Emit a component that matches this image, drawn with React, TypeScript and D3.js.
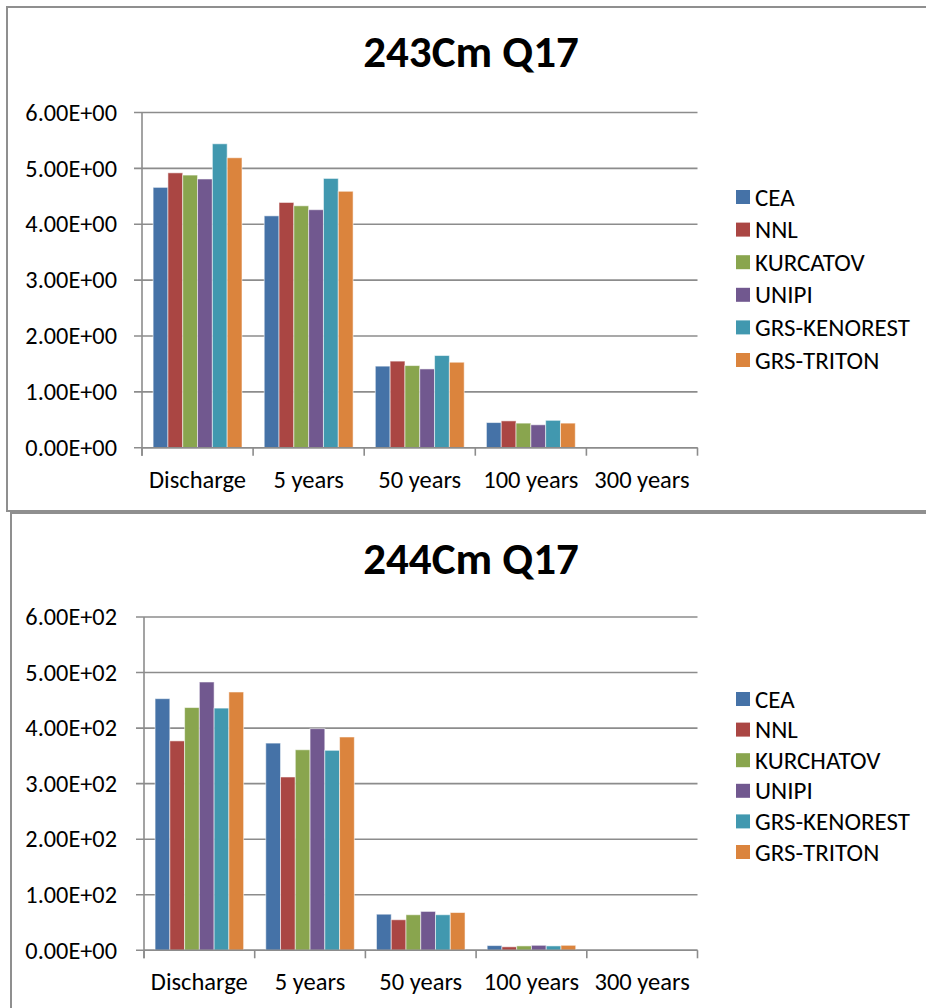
import React from "react";
import * as d3 from "d3";

const categories = ["Discharge", "5 years", "50 years", "100 years", "300 years"];

const seriesTop = ["CEA", "NNL", "KURCATOV", "UNIPI", "GRS-KENOREST", "GRS-TRITON"];
const seriesBottom = ["CEA", "NNL", "KURCHATOV", "UNIPI", "GRS-KENOREST", "GRS-TRITON"];

// 243Cm Q17 values (per series, per category)
const top_CEA = [4.66, 4.15, 1.46, 0.45, 0];
const top_NNL = [4.92, 4.39, 1.55, 0.48, 0];
const top_KURCATOV = [4.88, 4.33, 1.47, 0.44, 0];
const top_UNIPI = [4.81, 4.26, 1.41, 0.41, 0];
const top_GRSKENOREST = [5.44, 4.82, 1.65, 0.49, 0];
const top_GRSTRITON = [5.19, 4.59, 1.53, 0.44, 0];

// 244Cm Q17 values
const bot_CEA = [453, 373, 65, 8.5, 0];
const bot_NNL = [377, 312, 55, 6.3, 0];
const bot_KURCHATOV = [437, 361, 64, 7.9, 0];
const bot_UNIPI = [483, 399, 70, 9.0, 0];
const bot_GRSKENOREST = [436, 360, 64, 7.9, 0];
const bot_GRSTRITON = [465, 384, 68, 9.0, 0];

const yTicksTop = [0, 1, 2, 3, 4, 5, 6];
const yTickLabelsTop = ["0.00E+00", "1.00E+00", "2.00E+00", "3.00E+00", "4.00E+00", "5.00E+00", "6.00E+00"];
const yTicksBottom = [0, 100, 200, 300, 400, 500, 600];
const yTickLabelsBottom = ["0.00E+00", "1.00E+02", "2.00E+02", "3.00E+02", "4.00E+02", "5.00E+02", "6.00E+02"];

const colors = ["#4572A7", "#AA4643", "#89A54E", "#71588F", "#4198AF", "#DB843D"];

const FONT = "Carlito, 'Liberation Sans', Arial, sans-serif";

type ChartProps = {
  title: string;
  series: string[];
  values: number[][];
  ticks: number[];
  tickLabels: string[];
  frame: { x: number; y: number; w: number; h: number };
  plot: { left: number; right: number; top: number; bottom: number };
  titleY: number;
  legend: { x: number; y0: number; dy: number };
};

function Chart(p: ChartProps) {
  const x = d3.scaleBand<string>().domain(categories).range([p.plot.left, p.plot.right]).padding(0);
  const xi = d3
    .scaleBand<string>()
    .domain(p.series)
    .range([0, x.bandwidth()])
    .paddingInner(0)
    .paddingOuter(0.75);
  const y = d3
    .scaleLinear()
    .domain([p.ticks[0], p.ticks[p.ticks.length - 1]])
    .range([p.plot.bottom, p.plot.top]);
  const grid = "#8c8c8c";
  const boundaries = categories.map((c) => x(c)!).concat([p.plot.right]);
  return (
    <g>
      <rect x={p.frame.x} y={p.frame.y} width={p.frame.w} height={p.frame.h} fill="#fff" stroke="#8f8f8f" strokeWidth={2} />
      <text
        x={471}
        y={p.titleY}
        textAnchor="middle"
        fontFamily={FONT}
        fontWeight="bold"
        fontSize={45}
        fill="#000"
      >
        {p.title}
      </text>
      {p.ticks.map((t, i) => (
        <g key={"g" + i}>
          <line x1={p.plot.left - 8} x2={p.plot.right} y1={y(t)} y2={y(t)} stroke={grid} strokeWidth={1.6} />
          <text
            x={117}
            y={y(t)}
            dy="0.34em"
            textAnchor="end"
            fontFamily={FONT}
            fontSize={24.3}
            fill="#000"
          >
            {p.tickLabels[i]}
          </text>
        </g>
      ))}
      {p.series.map((s, si) => (
        <g key={s}>
          {categories.map((c, ci) => {
            const v = p.values[si][ci];
            const bx = x(c)! + xi(s)!;
            const by = y(v);
            return (
              <rect
                key={c}
                x={bx}
                y={by}
                width={xi.bandwidth()}
                height={Math.max(0, y(0) - by)}
                fill={colors[si]}
                stroke="#ffffff"
                strokeOpacity={0.55}
                strokeWidth={1}
              />
            );
          })}
        </g>
      ))}
      <line x1={p.plot.left} x2={p.plot.left} y1={p.plot.top} y2={p.plot.bottom + 8} stroke={grid} strokeWidth={1.6} />
      <line x1={p.plot.left} x2={p.plot.right} y1={p.plot.bottom} y2={p.plot.bottom} stroke={grid} strokeWidth={1.6} />
      {boundaries.map((b, i) => (
        <line key={"tk" + i} x1={b} x2={b} y1={p.plot.bottom} y2={p.plot.bottom + 8} stroke={grid} strokeWidth={1.6} />
      ))}
      {categories.map((c) => (
        <text
          key={"cl" + c}
          x={x(c)! + x.bandwidth() / 2}
          y={p.plot.bottom + 40}
          textAnchor="middle"
          fontFamily={FONT}
          fontSize={24.5}
          fill="#000"
        >
          {c}
        </text>
      ))}
      {p.series.map((s, si) => (
        <g key={"lg" + s}>
          <rect x={p.legend.x} y={p.legend.y0 + si * p.legend.dy - 7} width={14} height={14} fill={colors[si]} />
          <text
            x={p.legend.x + 19}
            y={p.legend.y0 + si * p.legend.dy}
            dy="0.34em"
            fontFamily={FONT}
            fontSize={25}
            fill="#000"
          >
            {s}
          </text>
        </g>
      ))}
    </g>
  );
}

export default function App() {
  const topValues = [top_CEA, top_NNL, top_KURCATOV, top_UNIPI, top_GRSKENOREST, top_GRSTRITON];
  const botValues = [bot_CEA, bot_NNL, bot_KURCHATOV, bot_UNIPI, bot_GRSKENOREST, bot_GRSTRITON];
  return (
    <svg
      width={926}
      height={1008}
      style={{ position: "absolute", left: 0, top: 0, background: "#fff" }}
    >
      <rect x={0} y={0} width={926} height={1008} fill="#fff" />
      <Chart
        title="243Cm Q17"
        series={seriesTop}
        values={topValues}
        ticks={yTicksTop}
        tickLabels={yTickLabelsTop}
        frame={{ x: 7, y: 7, w: 940, h: 504 }}
        plot={{ left: 142, right: 697.5, top: 112.5, bottom: 447.7 }}
        titleY={67}
        legend={{ x: 736, y0: 197, dy: 32.6 }}
      />
      <Chart
        title="244Cm Q17"
        series={seriesBottom}
        values={botValues}
        ticks={yTicksBottom}
        tickLabels={yTickLabelsBottom}
        frame={{ x: 11, y: 513, w: 940, h: 520 }}
        plot={{ left: 144, right: 697.5, top: 617, bottom: 950.3 }}
        titleY={574}
        legend={{ x: 736, y0: 699, dy: 30.6 }}
      />
    </svg>
  );
}
